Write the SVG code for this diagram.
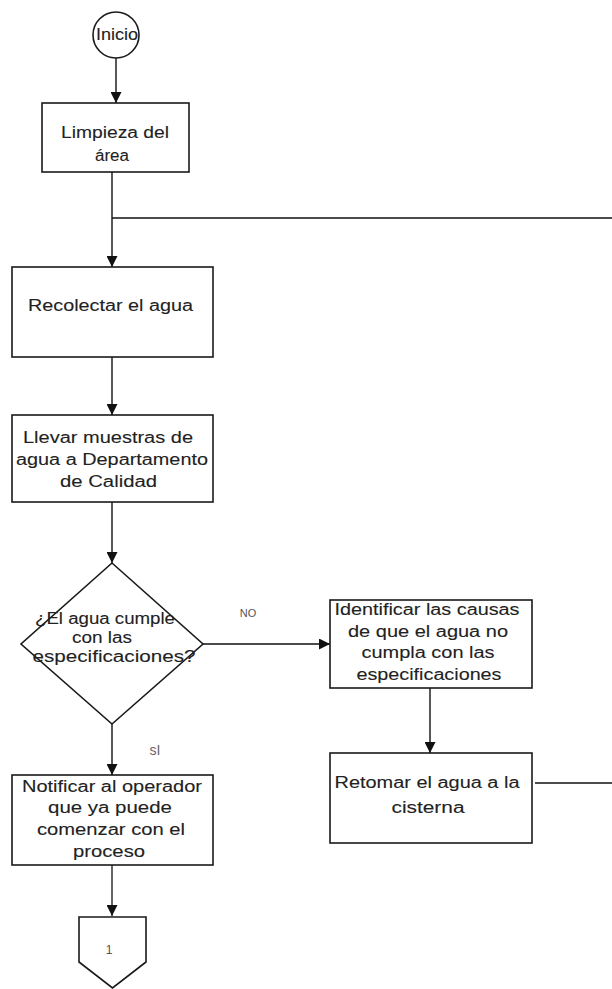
<svg xmlns="http://www.w3.org/2000/svg" width="612" height="989" viewBox="0 0 612 989">
  <style>
    .shape { fill: #ffffff; stroke: #1a1a1a; stroke-width: 1.6; }
    .lbl { font-family: "Liberation Sans", Arial, sans-serif; font-size: 16px; fill: #222222; stroke: #222222; stroke-width: 0.1; text-anchor: middle; }
    .small { font-family: "Liberation Sans", Arial, sans-serif; font-size: 11px; fill: #555555; text-anchor: middle; }
    .edge { fill: none; stroke: #111111; stroke-width: 1.4; }
  </style>
  <defs>
    <marker id="arrow" markerUnits="userSpaceOnUse" markerWidth="11" markerHeight="11" viewBox="0 0 10 10" refX="10" refY="5" orient="auto">
      <path d="M0,0 L10,5 L0,10 Z" fill="#111111"/>
    </marker>
  </defs>
  <rect width="612" height="989" fill="#ffffff"/>

  <!-- connectors and their labels -->
  <g id="connectors">
    <line class="edge" x1="116" y1="58" x2="116" y2="103" marker-end="url(#arrow)"/>
    <line class="edge" x1="112" y1="172" x2="112" y2="267" marker-end="url(#arrow)"/>
    <line class="edge" x1="112" y1="218" x2="612" y2="218"/>
    <line class="edge" x1="112" y1="357" x2="112" y2="415" marker-end="url(#arrow)"/>
    <line class="edge" x1="112" y1="502" x2="112" y2="563" marker-end="url(#arrow)"/>
    <line class="edge" x1="203" y1="644" x2="330" y2="644" marker-end="url(#arrow)"/>
    <line class="edge" x1="430" y1="688" x2="430" y2="753" marker-end="url(#arrow)"/>
    <line class="edge" x1="535" y1="783" x2="612" y2="783"/>
    <line class="edge" x1="112" y1="724" x2="112" y2="775" marker-end="url(#arrow)"/>
    <line x1="112" y1="865" x2="112" y2="916" stroke="#666666" stroke-width="2" marker-end="url(#arrow)"/>
    <text class="small" x="248" y="617">NO</text>
    <text x="155" y="755" font-family="Liberation Sans, Arial, sans-serif" font-size="14" fill="#666666" text-anchor="middle">sI</text>
  </g>

  <g id="inicio">
    <circle class="shape" cx="116" cy="35" r="23"/>
    <text class="lbl" x="117" y="40" font-size="14" textLength="42" lengthAdjust="spacingAndGlyphs">Inicio</text>
  </g>

  <g id="limpieza">
    <rect class="shape" x="42" y="103" width="147" height="69"/>
    <text class="lbl" x="115" y="138" textLength="108" lengthAdjust="spacingAndGlyphs">Limpieza del</text>
    <text class="lbl" x="112" y="161" textLength="34" lengthAdjust="spacingAndGlyphs">área</text>
  </g>

  <g id="recolectar">
    <rect class="shape" x="12" y="267" width="201" height="90"/>
    <text class="lbl" x="110.5" y="311" textLength="165" lengthAdjust="spacingAndGlyphs">Recolectar el agua</text>
  </g>

  <g id="muestras">
    <rect class="shape" x="12" y="415" width="201" height="87"/>
    <text class="lbl" x="108" y="443" textLength="170" lengthAdjust="spacingAndGlyphs">Llevar muestras de</text>
    <text class="lbl" x="112" y="465" textLength="192" lengthAdjust="spacingAndGlyphs">agua a Departamento</text>
    <text class="lbl" x="108.5" y="487" textLength="97" lengthAdjust="spacingAndGlyphs">de Calidad</text>
  </g>

  <g id="decision">
    <polygon class="shape" points="112,563 203,644 112,724 21,644"/>
    <text class="lbl" x="105" y="624" textLength="140" lengthAdjust="spacingAndGlyphs">¿El agua cumple</text>
    <text class="lbl" x="102" y="643" textLength="60" lengthAdjust="spacingAndGlyphs">con las</text>
    <text class="lbl" x="114" y="662" textLength="163" lengthAdjust="spacingAndGlyphs">especificaciones?</text>
  </g>

  <g id="identificar">
    <rect class="shape" x="330" y="600" width="202" height="88"/>
    <text class="lbl" x="427" y="615" textLength="185" lengthAdjust="spacingAndGlyphs">Identificar las causas</text>
    <text class="lbl" x="428" y="637" textLength="160" lengthAdjust="spacingAndGlyphs">de que el agua no</text>
    <text class="lbl" x="428" y="658" textLength="133" lengthAdjust="spacingAndGlyphs">cumpla con las</text>
    <text class="lbl" x="429" y="680" textLength="145" lengthAdjust="spacingAndGlyphs">especificaciones</text>
  </g>

  <g id="retornar">
    <rect class="shape" x="330" y="753" width="202" height="90"/>
    <text class="lbl" x="427" y="788" textLength="185" lengthAdjust="spacingAndGlyphs">Retomar el agua a la</text>
    <text class="lbl" x="428" y="813" textLength="73" lengthAdjust="spacingAndGlyphs">cisterna</text>
  </g>

  <g id="notificar">
    <rect class="shape" x="12" y="775" width="201" height="90"/>
    <text class="lbl" x="112" y="792" textLength="180" lengthAdjust="spacingAndGlyphs">Notificar al operador</text>
    <text class="lbl" x="110" y="813" textLength="124" lengthAdjust="spacingAndGlyphs">que ya puede</text>
    <text class="lbl" x="111" y="835" textLength="148" lengthAdjust="spacingAndGlyphs">comenzar con el</text>
    <text class="lbl" x="109" y="857" textLength="72" lengthAdjust="spacingAndGlyphs">proceso</text>
  </g>

  <g id="conector-1">
    <polygon class="shape" points="79,917 146,917 146,962 112.5,988 79,962"/>
    <text x="109" y="954" font-family="Liberation Sans, Arial, sans-serif" font-size="12" fill="#555555" text-anchor="middle">1</text>
  </g>
</svg>
